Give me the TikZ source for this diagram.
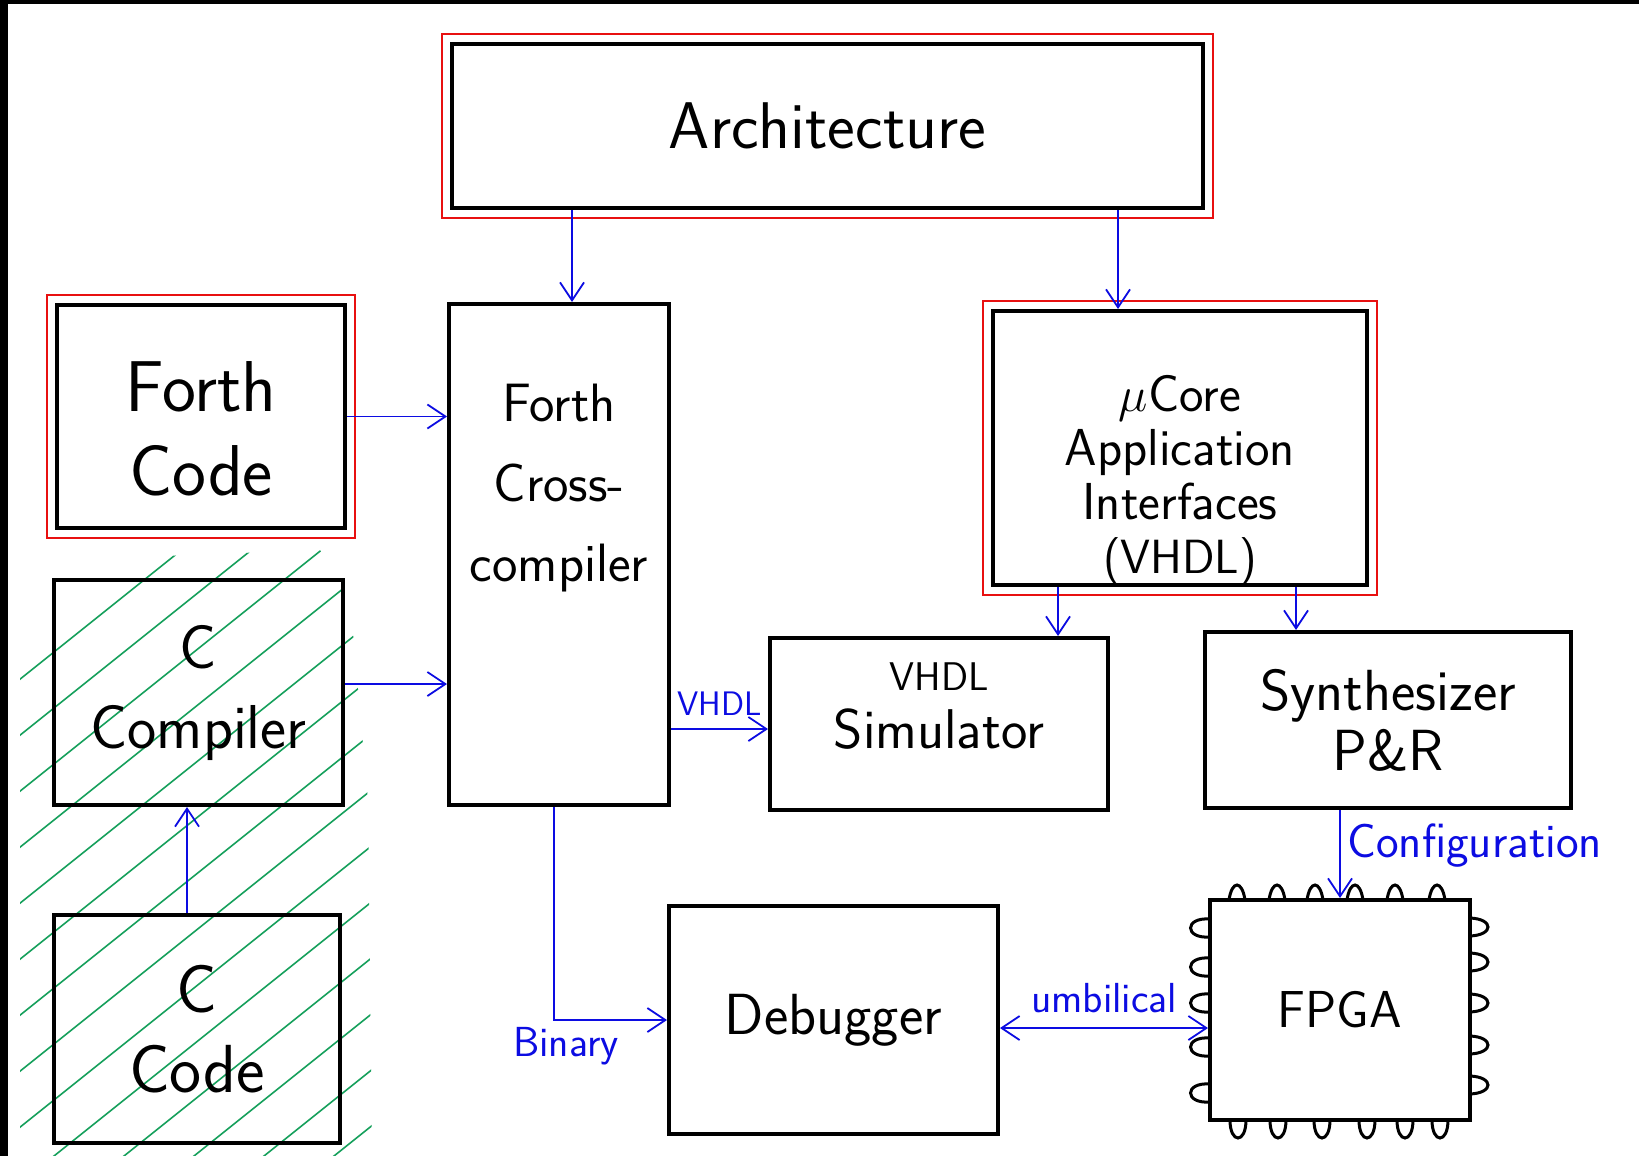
\documentclass[tikz,border=0pt]{standalone}
\usepackage{tikz}
\usetikzlibrary{arrows.meta, fit, positioning}

\definecolor{penred}{RGB}{232,16,16}
\definecolor{penblue}{RGB}{12,12,226}
\definecolor{pengreen}{RGB}{22,160,92}

\tikzset{
  box/.style={draw, line width=2pt, inner sep=0pt, align=center,
    font=\sffamily\fontsize{29}{40}\selectfont},
  redframe/.style={draw=penred, line width=1.1pt, inner sep=4pt},
  flow/.style={draw=penblue, line width=0.9pt,
    >={Straight Barb[length=9pt,width=12pt]}, ->},
  note/.style={text=penblue, font=\sffamily\fontsize{21}{24}\selectfont},
  hatch/.style={draw=pengreen, line width=0.8pt},
  pin/.style={line width=1.5pt}
}

\begin{document}
\begin{tikzpicture}[x=0.5pt, y=-0.5pt]
        \useasboundingbox (0,0) rectangle (1639,1156);
        % Fond
        \fill[black] (0,0) rectangle (1639,1156);
        \fill[white] (8,4) rectangle (1639,1156);

        % Hachures
        \begin{scope}
            \clip (20,625) -- (110,558) -- (320,550) -- (350,600) -- (368,800)
                  -- (372,1156) -- (20,1156) -- cycle;
            \foreach \k in {-11,...,4}
                \draw[hatch] ({49+70*\k},1160) -- ++(900,-720);
        \end{scope}

        % Blocs
        \node[box, minimum width=375.5pt, minimum height=82pt,
              font=\sffamily\fontsize{33}{40}\selectfont] (arch) at (827.5,126) {Architecture};
        \node[box, minimum width=144pt, minimum height=111.5pt,
              label={[align=center, yshift=-6pt, font=\sffamily\fontsize{36}{42}\selectfont]center:Forth\\Code}]
              (fcode) at (201,416.5) {};
        \node[box, minimum width=110pt, minimum height=250.5pt,
              label={[align=center, yshift=33pt, font=\sffamily\fontsize{27}{40}\selectfont]center:Forth\\Cross-\\compiler}]
              (fcross) at (559,554.5) {};
        \node[box, minimum width=187pt, minimum height=137pt,
              label={[align=center, yshift=-16pt, font=\sffamily\fontsize{26}{27}\selectfont]center:$\mu$Core\\Application\\Interfaces\\{\fontsize{24}{27}\selectfont(VHDL)}}]
              (ucore) at (1180,448) {};
        \node[box, minimum width=144.5pt, minimum height=112.5pt,
              font=\sffamily\fontsize{31}{40}\selectfont] (ccomp) at (198.5,692.5) {C\\Compiler};
        \node[box, minimum width=143pt, minimum height=114pt,
              font=\sffamily\fontsize{34}{40}\selectfont] (ccode) at (197,1029) {C\\Code};
        \node[box, minimum width=169pt, minimum height=86pt,
              label={[align=center, yshift=9pt, font=\sffamily\fontsize{28}{29}\selectfont]center:{\fontsize{20}{29}\selectfont VHDL}\\Simulator}]
              (vsim) at (939,724) {};
        \node[box, minimum width=183pt, minimum height=88pt,
              font=\sffamily\fontsize{29}{30}\selectfont] (synth) at (1388,720) {Synthesizer\\P\&R};
        \node[box, minimum width=164.5pt, minimum height=114pt] (dbg) at (833.5,1020) {Debugger};
        \node[box, minimum width=130pt, minimum height=110pt,
              font=\sffamily\fontsize{26}{30}\selectfont] (fpga) at (1340,1010) {FPGA};

        % Cadres rouges
        \node[redframe, fit=(arch)] (archframe) {};
        \node[redframe, fit=(fcode)] (fcodeframe) {};
        \node[redframe, fit=(ucore)] (ucoreframe) {};

        % Broches du FPGA
        \foreach \x in {1237,1277,1315,1355,1395,1437}
            \draw[pin] (\x-8,900) .. controls (\x-5,880) and (\x+5,880) .. (\x+8,900);
        \foreach \x in {1238,1278,1322,1367,1405,1440}
            \draw[pin] (\x-8,1120) .. controls (\x-8,1144) and (\x+8,1144) .. (\x+8,1120);
        \foreach \y in {928,967,1003,1047,1093}
            \draw[pin] (1210,\y-9) .. controls (1184,\y-11) and (1184,\y+11) .. (1210,\y+9);
        \foreach \y in {927,962,1003,1045,1085}
            \draw[pin] (1470,\y-9) .. controls (1494,\y-8) and (1494,\y+8) .. (1470,\y+9);

        % Fleches
        \draw[flow] (arch.south -| 572,0) -- (fcross.north -| 572,0);
        \draw[flow] (arch.south -| 1118,0) -- (ucore.north -| 1118,0);
        \draw[flow] (fcode.east) -- (fcode.east -| fcross.west);
        \draw[flow] (ccomp.east |- 0,684) -- (fcross.west |- 0,684);
        \draw[flow] (ccode.north -| 187,0) -- (ccomp.south -| 187,0);
        \draw[flow] (fcross.east |- 0,729) -- node[note, above, yshift=3pt,
              font=\sffamily\fontsize{17}{20}\selectfont] {VHDL} (vsim.west |- 0,729);
        \draw[flow] (fcross.south -| 554,0) |- node[note, pos=0.5, below, xshift=6pt] {Binary} (dbg.west);
        \draw[flow] (ucore.south -| 1058,0) -- (vsim.north -| 1058,0);
        \draw[flow] (ucore.south -| 1296,0) -- (synth.north -| 1296,0);
        \draw[flow] (synth.south -| fpga.north) -- node[note, right, pos=0.4,
              font=\sffamily\fontsize{24}{28}\selectfont] {Configuration} (fpga.north);
        \draw[flow, <->] (dbg.east |- 0,1028) -- node[note, above, yshift=4pt] {umbilical} (fpga.west |- 0,1028);
    \end{tikzpicture}
\end{document}
